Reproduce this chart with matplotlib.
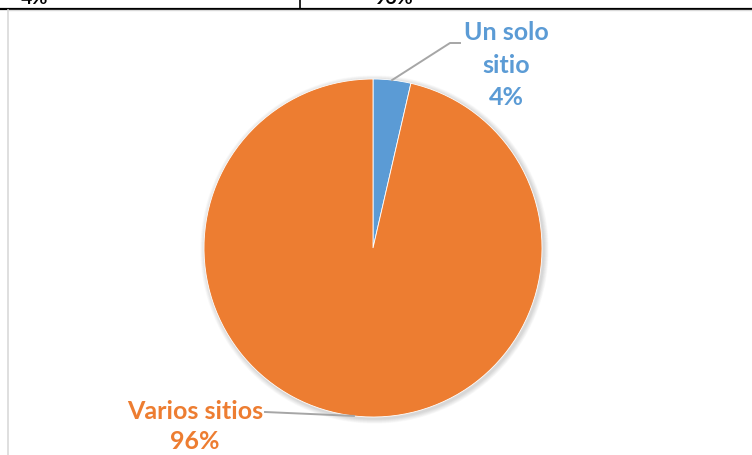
import numpy as np
import matplotlib.pyplot as plt

labels = ['Un solo\nsitio', 'Varios sitios']
values = [3.6, 96.4]
colors = ['#5B9BD5', '#ED7D31']
table_texts = ['4%', '96%']

W, H = 752, 456
fig = plt.figure(figsize=(W / 100, H / 100), dpi=100)
ax = fig.add_axes([0, 0, 1, 1])
ax.set_xlim(0, W)
ax.set_ylim(0, H)
ax.set_aspect('equal')
ax.axis('off')

# table remnant at the top
ax.plot([0, W], [H - 9.5, H - 9.5], color='black', lw=1.6)
ax.plot([300, 300], [H - 9.5, H], color='black', lw=1.2)
ax.text(35, H - 4, table_texts[0], ha='center', va='baseline', fontsize=14,
        family='Lato', fontweight='bold', color='black')
ax.text(394, H - 4, table_texts[1], ha='center', va='baseline', fontsize=14,
        family='Lato', fontweight='bold', color='black')

# chart area border
ax.plot([8, 8], [0, H - 11], color='#D9D9D9', lw=1.2)
ax.plot([8, W], [H - 11, H - 11], color='#D9D9D9', lw=1.0)

cx, cy, r = 373, 207, 169

# soft shadow
for i in range(8):
    ax.add_patch(plt.Circle((cx + 1.5, cy - 1.5), r + 1 + i * 0.6,
                            color='#000000', alpha=0.018, lw=0, zorder=1))

wedges, _ = ax.pie(values, colors=colors, startangle=90, counterclock=False,
                   center=(cx, cy), radius=r, frame=True,
                   wedgeprops=dict(linewidth=0.6, edgecolor='white', zorder=2))
ax.set_xlim(0, W)
ax.set_ylim(0, H)
ax.axis('off')

pcts = [f'{round(v)}%' for v in values]

def anchor(w):
    ang = np.deg2rad((w.theta1 + w.theta2) / 2)
    return cx + r * np.cos(ang), cy + r * np.sin(ang)

font = dict(fontsize=18, family='Lato', fontweight='bold')

# small slice label (top right)
x0, y0 = anchor(wedges[0])
ax.plot([x0, 450, 460], [y0, H - 44, H - 44], color='#A6A6A6', lw=1.4, zorder=3)
ax.text(506, H - 65, labels[0] + '\n' + pcts[0], ha='center', va='center',
        color=colors[0], linespacing=1.5, **font)

# big slice label (bottom left)
x1, y1 = anchor(wedges[1])
ax.plot([x1, 265], [y1, H - 413], color='#A6A6A6', lw=1.4, zorder=3)
ax.text(195, H - 412, labels[1], ha='center', va='center',
        color=colors[1], **font)
ax.text(195, H - 442, pcts[1], ha='center', va='center',
        color=colors[1], **font)

fig.savefig('out.png', dpi=100)
